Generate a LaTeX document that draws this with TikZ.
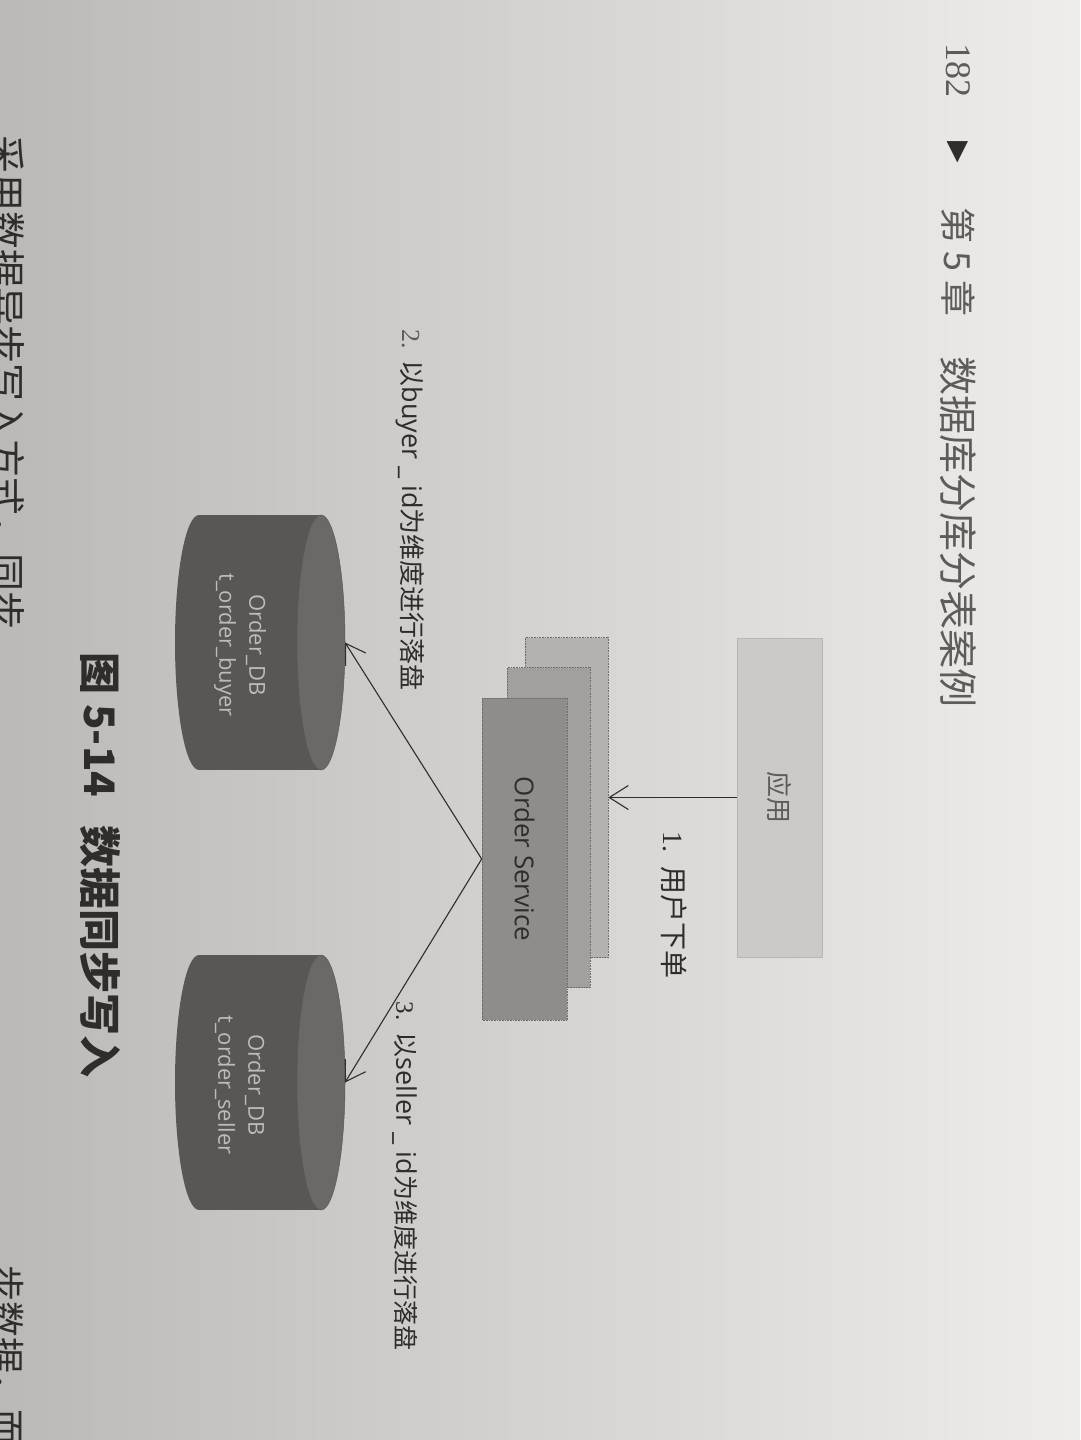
\documentclass[tikz,border=0pt]{standalone}
\usepackage{fontspec}
\setmainfont{Liberation Serif}
\newfontfamily\cjk{Noto Sans CJK SC}
\newfontfamily\osans{Open Sans}
\newfontfamily\dejavu{DejaVu Sans}
\usetikzlibrary{arrows.meta,shapes.geometric}
\definecolor{paperD}{HTML}{BCB8B5}
\definecolor{paperM}{HTML}{E0DEDC}
\definecolor{paperL}{HTML}{EEEDEB}
\definecolor{appfill}{HTML}{CCCAC9}
\definecolor{svcA}{HTML}{8F8D8B}
\definecolor{svcB}{HTML}{A2A09E}
\definecolor{svcC}{HTML}{B4B2B0}
\definecolor{svcline}{HTML}{6C6A68}
\definecolor{dbbody}{HTML}{595756}
\definecolor{dbend}{HTML}{6B6967}
\definecolor{dbtxt}{HTML}{BEBCBA}
\definecolor{ink}{HTML}{2F2D2C}
\definecolor{inkL}{HTML}{5E5C5A}
\begin{document}
\begin{tikzpicture}[x=1pt,y=-1pt,
  hdr/.style={rotate=-90, text=inkL, inner sep=0pt},
  appbox/.style={rotate=-90, fill=appfill, draw=appfill!90!black, line width=0.4pt,
    minimum width=319pt, minimum height=85pt, inner sep=0pt, text=inkL,
    font=\cjk\fontsize{26}{30}\selectfont},
  svcbox/.style={rotate=-90, draw=svcline, densely dotted, line width=0.6pt,
    minimum width=320pt, minimum height=83pt, inner sep=0pt},
  dbbox/.style={rectangle, minimum width=170pt, minimum height=255pt,
    inner sep=0pt, outer sep=0pt},
  dbbodyfill/.style={fill=dbbody},
  dbendfill/.style={fill=dbend, draw=dbend!85!black, line width=0.5pt},
  dbtext/.style={rotate=-90, text=dbtxt, align=center, inner sep=0pt,
    font=\osans\fontsize{22}{30}\selectfont},
  lbl/.style={rotate=-90, text=ink, inner sep=0pt, font=\cjk\fontsize{25}{30}\selectfont},
  arr/.style={draw=ink, line width=1.1pt,
    -{Straight Barb[length=19pt,width=24pt,line width=1.1pt]}},
  body/.style={rotate=-90, text=ink, inner sep=0pt, font=\cjk\fontsize{38}{40}\selectfont},
]
\useasboundingbox (0,0) rectangle (1080,1440);
\fill[left color=paperD, middle color=paperM, right color=paperL] (0,0) rectangle (1080,1440);

% page header
\node[hdr, font=\rmfamily\fontsize{36}{40}\selectfont] (pnum) at (958,70) {182};
\node[hdr, text=ink, font=\dejavu\fontsize{28}{30}\selectfont] (ptri) at (958,152) {▶};
\node[hdr, font=\cjk\fontsize{36}{40}\selectfont] (pchap) at (958,262) {第 5 章};
\node[hdr, font=\cjk\fontsize{39}{42}\selectfont] (ptitle) at (958,532) {数据库分库分表案例};

% application box
\node[appbox] (app) at (779.5,797.5) {应用};

% Order Service stack
\node[svcbox, fill=svcC] (back) at (566.5,797.5) {};
\node[svcbox, fill=svcB] (mid) at (548.5,827.5) {};
\node[svcbox, fill=svcA, minimum width=322pt, minimum height=85pt,
      text=ink, font=\osans\fontsize{26}{30}\selectfont] (front) at (524.5,859) {Order Service};
\coordinate (fork) at (front.south);

% databases (horizontal cylinders, top face on the right)
\node[dbbox] (buyer) at (260,642.5) {};
\fill[dbbodyfill] (199,642.5) ellipse [x radius=24pt, y radius=127.5pt];
\fill[dbbodyfill] (199,515) rectangle (321,770);
\filldraw[dbendfill] (321,642.5) ellipse [x radius=24pt, y radius=127.5pt];
\node[dbtext] (buyertxt) at (240,645) {Order\_DB\\t\_order\_buyer};

\node[dbbox] (seller) at (260,1082.5) {};
\fill[dbbodyfill] (199,1082.5) ellipse [x radius=24pt, y radius=127.5pt];
\fill[dbbodyfill] (199,955) rectangle (321,1210);
\filldraw[dbendfill] (321,1082.5) ellipse [x radius=24pt, y radius=127.5pt];
\node[dbtext] (sellertxt) at (240,1085) {Order\_DB\\t\_order\_seller};

% connectors
\draw[arr] (app) -- (back);
\draw[arr] (fork) -- (buyer.east);
\draw[arr] (fork) -- (seller.east);

% labels
\node[lbl, font=\cjk\fontsize{28}{30}\selectfont] (l1) at (674,905)
  {{\rmfamily 1.}\hspace{14pt}用户下单};
\node[lbl, font=\cjk\fontsize{26}{30}\selectfont] (l2) at (410,510)
  {{\color{inkL}\rmfamily 2.}\hspace{12pt}以{\osans\fontsize{27}{30}\selectfont buyer \_ id}为维度进行落盘};
\node[lbl] (l3) at (405,1176)
  {{\rmfamily 3.}\hspace{12pt}以{\osans\fontsize{27}{30}\selectfont seller \_ id}为维度进行落盘};

% caption
\node[lbl, font=\cjk\bfseries\fontsize{42}{46}\selectfont] (cap) at (100,865)
  {图 5-14\hspace{28pt}数据同步写入};

% cut-off body text at the page edge
\node[body, anchor=west] (bodyA) at (7,135) {采用数据异步写入方式，同步};
\node[body, anchor=west, font=\cjk\fontsize{36}{40}\selectfont] (bodyB) at (7,1265) {步数据，而};
\end{tikzpicture}
\end{document}
